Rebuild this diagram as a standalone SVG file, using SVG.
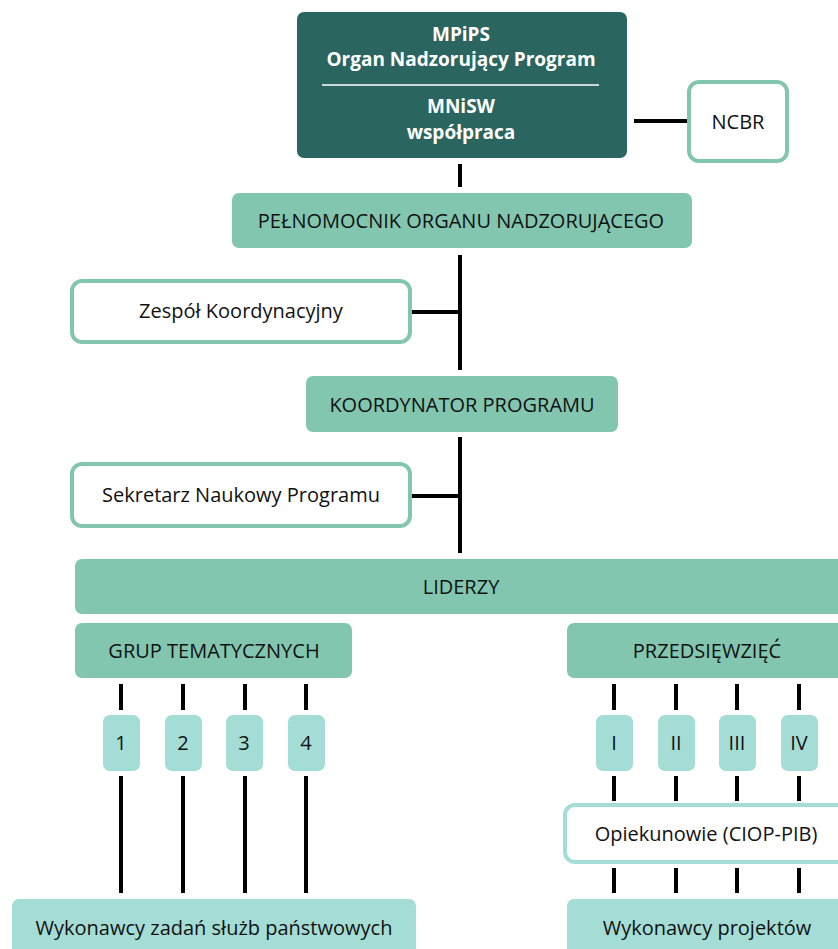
<svg xmlns="http://www.w3.org/2000/svg" width="838" height="949" viewBox="0 0 838 949">
<style>
text{font-family:"Open Sans","Noto Sans","Liberation Sans",sans-serif;font-size:20px;fill:#111;text-anchor:middle}
.w{fill:#fff;font-weight:bold;font-size:19px}
.dark{fill:#2a6560}
.mid{fill:#82c6b0}
.light{fill:#a3ddd5}
.out{fill:#fff;stroke:#82c6b0;stroke-width:4}
.outl{fill:#fff;stroke:#a3ddd5;stroke-width:4}
.c line{stroke:#000;stroke-width:4}
</style>
<g class="c" id="connectors">
<line x1="634" y1="121" x2="687" y2="121"/>
<line x1="460" y1="164" x2="460" y2="187"/>
<line x1="460" y1="255" x2="460" y2="370"/>
<line x1="412" y1="312" x2="460" y2="312"/>
<line x1="460" y1="437" x2="460" y2="553"/>
<line x1="412" y1="496" x2="460" y2="496"/>
<line x1="121" y1="684" x2="121" y2="710"/>
<line x1="183" y1="684" x2="183" y2="710"/>
<line x1="245" y1="684" x2="245" y2="710"/>
<line x1="306" y1="684" x2="306" y2="710"/>
<line x1="121" y1="776" x2="121" y2="893"/>
<line x1="183" y1="776" x2="183" y2="893"/>
<line x1="245" y1="776" x2="245" y2="893"/>
<line x1="306" y1="776" x2="306" y2="893"/>
<line x1="614" y1="684" x2="614" y2="710"/>
<line x1="676" y1="684" x2="676" y2="710"/>
<line x1="737" y1="684" x2="737" y2="710"/>
<line x1="799" y1="684" x2="799" y2="710"/>
<line x1="614" y1="776" x2="614" y2="801"/>
<line x1="676" y1="776" x2="676" y2="801"/>
<line x1="737" y1="776" x2="737" y2="801"/>
<line x1="799" y1="776" x2="799" y2="801"/>
<line x1="614" y1="868" x2="614" y2="893"/>
<line x1="676" y1="868" x2="676" y2="893"/>
<line x1="737" y1="868" x2="737" y2="893"/>
<line x1="799" y1="868" x2="799" y2="893"/>
</g>
<g id="mpips">
<rect class="dark" x="297" y="12" width="330" height="146" rx="7"/>
<text class="w" x="461" y="41">MPiPS</text>
<text class="w" x="461" y="66">Organ Nadzorujący Program</text>
<line x1="322" y1="85" x2="599" y2="85" stroke="#fff" stroke-width="1.5"/>
<text class="w" x="461" y="113">MNiSW</text>
<text class="w" x="461" y="139">współpraca</text>
</g>
<g id="ncbr">
<rect class="out" x="689" y="82" width="98" height="79" rx="10"/>
<text x="738" y="129">NCBR</text>
</g>
<g id="pelnomocnik">
<rect class="mid" x="232" y="193" width="460" height="55" rx="7"/>
<text x="461" y="228">PEŁNOMOCNIK ORGANU NADZORUJĄCEGO</text>
</g>
<g id="zespol">
<rect class="out" x="72" y="281" width="338" height="61" rx="10"/>
<text x="241" y="318">Zespół Koordynacyjny</text>
</g>
<g id="koordynator">
<rect class="mid" x="306" y="376" width="312" height="56" rx="7"/>
<text x="462" y="412">KOORDYNATOR PROGRAMU</text>
</g>
<g id="sekretarz">
<rect class="out" x="72" y="464" width="338" height="62" rx="10"/>
<text x="241" y="502">Sekretarz Naukowy Programu</text>
</g>
<g id="liderzy">
<rect class="mid" x="75" y="559" width="780" height="55" rx="7"/>
<text x="461" y="594">LIDERZY</text>
</g>
<g id="grup">
<rect class="mid" x="75" y="623" width="277" height="55" rx="7"/>
<text x="214" y="658">GRUP TEMATYCZNYCH</text>
</g>
<g id="g1"><rect class="light" x="103" y="715" width="37" height="56" rx="7"/><text x="121" y="750">1</text></g>
<g id="g2"><rect class="light" x="165" y="715" width="37" height="56" rx="7"/><text x="183" y="750">2</text></g>
<g id="g3"><rect class="light" x="226" y="715" width="37" height="56" rx="7"/><text x="244" y="750">3</text></g>
<g id="g4"><rect class="light" x="288" y="715" width="37" height="56" rx="7"/><text x="306" y="750">4</text></g>
<g id="wykonawcy-zadan">
<rect class="light" x="12" y="899" width="404" height="70" rx="7"/>
<text x="214" y="935">Wykonawcy zadań służb państwowych</text>
</g>
<g id="przedsiewziec">
<rect class="mid" x="567" y="623" width="300" height="55" rx="7"/>
<text x="707" y="658">PRZEDSIĘWZIĘĆ</text>
</g>
<g id="p1"><rect class="light" x="596" y="715" width="37" height="56" rx="7"/><text x="614" y="750">I</text></g>
<g id="p2"><rect class="light" x="658" y="715" width="37" height="56" rx="7"/><text x="676" y="750">II</text></g>
<g id="p3"><rect class="light" x="719" y="715" width="37" height="56" rx="7"/><text x="737" y="750">III</text></g>
<g id="p4"><rect class="light" x="781" y="715" width="37" height="56" rx="7"/><text x="799" y="750">IV</text></g>
<g id="opiekunowie">
<rect class="outl" x="565" y="805" width="300" height="57" rx="10"/>
<text x="706" y="841">Opiekunowie (CIOP-PIB)</text>
</g>
<g id="wykonawcy-projektow">
<rect class="light" x="567" y="899" width="300" height="70" rx="7"/>
<text x="707" y="935">Wykonawcy projektów</text>
</g>
</svg>
